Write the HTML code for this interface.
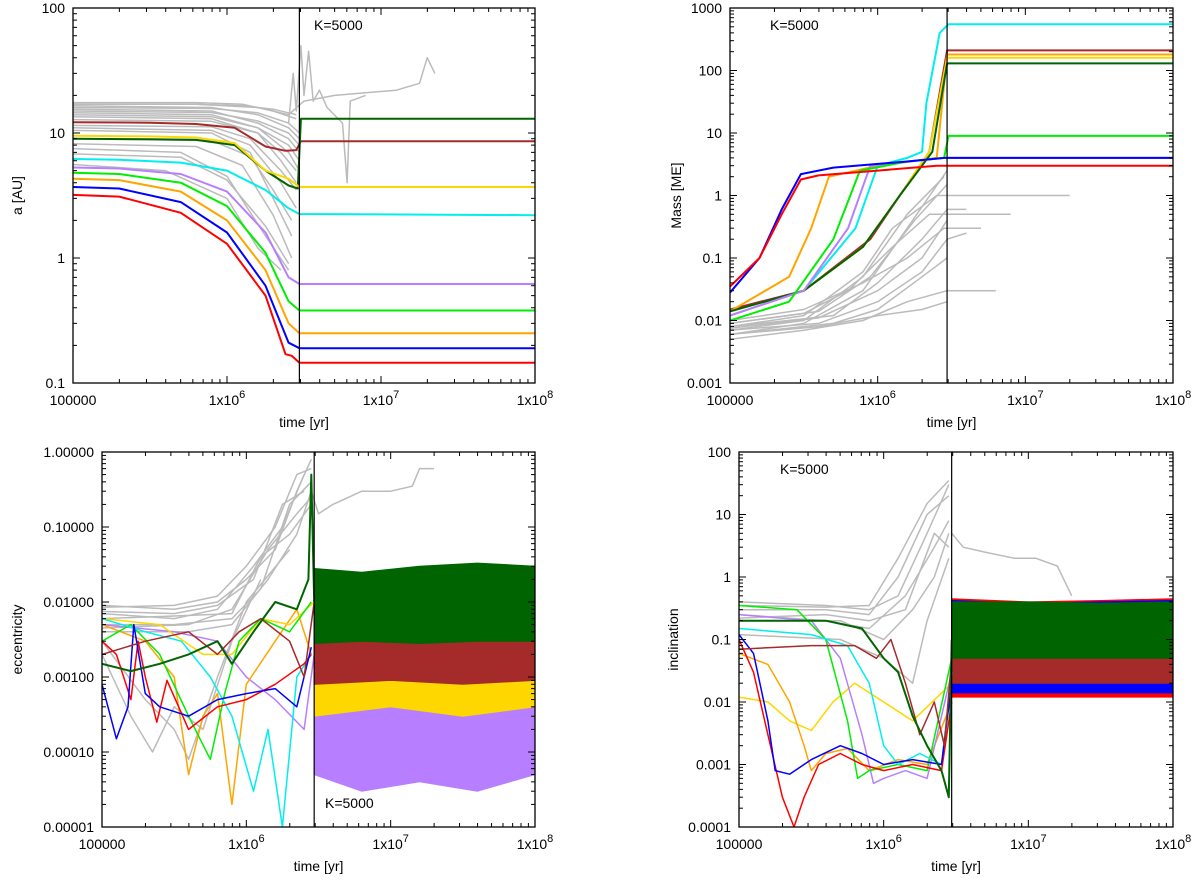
<!DOCTYPE html>
<html><head><meta charset="utf-8"><style>
html,body{margin:0;padding:0;background:#fff}
svg{display:block}
text{font-family:"Liberation Sans",sans-serif;font-size:14px;fill:#000}
</style></head><body>
<svg id="c" width="1200" height="880"></svg>
<script>
// ---------- DATA (time as log10(t) in years) ----------
const xTickLabels=["100000","1x10","1x10","1x10"];
const xTickExp=["","6","7","8"];
const aTicks=["0.1","1","10","100"];
const mTicks=["0.001","0.01","0.1","1","10","100","1000"];
const eTicks=["0.00001","0.00010","0.00100","0.01000","0.10000","1.00000"];
const iTicks=["0.0001","0.001","0.01","0.1","1","10","100"];
const kTime=6.47;

// semi-major axis
const aGray=[
[[5,17.5],[5.8,17.5],[6.1,17],[6.3,15],[6.45,13]],
[[5,17],[5.8,17],[6.1,16.5],[6.3,15.5],[6.45,14]],
[[5,16.5],[5.9,16],[6.2,14],[6.4,11],[6.47,9]],
[[5,16],[5.9,15.7],[6.2,14.5],[6.4,12],[6.47,10]],
[[5,15.5],[5.9,15],[6.2,12],[6.4,9],[6.47,7]],
[[5,15],[5.9,14.6],[6.2,12.5],[6.4,10],[6.47,8]],
[[5,14.5],[5.9,14],[6.2,11],[6.4,7],[6.47,5]],
[[5,14],[5.9,13.5],[6.2,11],[6.4,8],[6.47,6]],
[[5,13.5],[5.9,13],[6.2,10],[6.35,6],[6.45,4]],
[[5,12.8],[5.9,12.4],[6.2,10],[6.35,7],[6.45,5]],
[[5,11.5],[5.9,11.2],[6.15,9],[6.35,5],[6.45,3.5]],
[[5,11],[5.9,10.5],[6.15,8],[6.35,4],[6.45,2.5]],
[[5,10.5],[5.9,10],[6.15,7],[6.3,3],[6.42,1.5]],
[[5,9],[5.9,8.7],[6.15,6.5],[6.3,3.5],[6.42,2]],
[[5,8.2],[5.8,7.8],[6.1,5.5],[6.3,2.2],[6.42,1]],
[[5,7.5],[5.7,7],[6.0,4.5],[6.25,1.5],[6.4,0.8]],
[[5,6.8],[5.7,6.4],[6.0,4.2],[6.25,1.8],[6.4,0.9]],
[[5,5.6],[5.6,5],[6.0,3],[6.2,1.2],[6.35,0.8]],
[[5,17],[5.8,17],[6.2,16],[6.4,14],[6.5,18],[6.7,20],[6.9,21],[7.1,22],[7.25,25],[7.3,40],[7.35,30]],
[[6.4,12],[6.43,30],[6.45,15],[6.48,50],[6.5,20],[6.53,45],[6.56,18],[6.6,22],[6.65,16],[6.75,12],[6.78,4],[6.8,18],[6.9,20]]
];
const aRed=[[5,3.2],[5.3,3.1],[5.7,2.3],[6,1.3],[6.25,0.5],[6.38,0.17],[6.42,0.165],[6.47,0.145],[8,0.145]];
const aBlue=[[5,3.7],[5.3,3.6],[5.7,2.8],[6,1.6],[6.25,0.6],[6.4,0.21],[6.47,0.19],[8,0.19]];
const aOrange=[[5,4.3],[5.3,4.2],[5.7,3.4],[6,2],[6.25,0.8],[6.4,0.3],[6.47,0.25],[8,0.25]];
const aGreen=[[5,4.8],[5.3,4.7],[5.7,4.0],[6,2.6],[6.25,1.1],[6.4,0.45],[6.47,0.38],[8,0.38]];
const aPurple=[[5,5.3],[5.3,5.2],[5.7,4.7],[6,3.4],[6.25,1.6],[6.4,0.7],[6.47,0.62],[8,0.62]];
const aCyan=[[5,6.2],[5.3,6.1],[5.7,5.8],[6,5.0],[6.25,3.5],[6.4,2.5],[6.47,2.25],[8,2.2]];
const aYellow=[[5,9.5],[5.5,9.4],[5.8,9.2],[6.05,8.3],[6.25,5],[6.4,4.3],[6.47,3.7],[8,3.7]];
const aDarkGreen=[[5,9.0],[5.5,8.9],[5.8,8.8],[6.05,8],[6.25,5],[6.4,3.8],[6.46,3.6],[6.48,13],[8,13]];
const aBrown=[[5,12.2],[5.5,12.1],[5.8,11.8],[6.05,11],[6.25,7.8],[6.38,7.2],[6.45,7.3],[6.48,8.6],[8,8.6]];

// mass
const mGray=[
[[5,0.006],[5.5,0.009],[5.9,0.03],[6.2,0.3],[6.47,2.5]],
[[5,0.007],[5.5,0.01],[5.9,0.05],[6.2,0.5],[6.45,2]],
[[5,0.008],[5.5,0.012],[5.9,0.06],[6.1,0.3],[6.4,1],[7.3,1]],
[[5,0.009],[5.5,0.013],[5.8,0.03],[6.1,0.15],[6.35,0.5],[6.9,0.5]],
[[5,0.01],[5.5,0.015],[5.9,0.04],[6.2,0.1],[6.45,0.3],[6.7,0.3]],
[[5,0.005],[5.5,0.007],[5.9,0.01],[6.2,0.02],[6.47,0.03],[6.8,0.03]],
[[5,0.006],[5.6,0.008],[6,0.012],[6.3,0.015],[6.47,0.02]],
[[5,0.007],[5.6,0.009],[6,0.02],[6.3,0.06],[6.47,0.2],[6.6,0.25]],
[[5,0.008],[5.7,0.012],[6,0.04],[6.3,0.2],[6.47,0.6],[6.6,0.6]],
[[5,0.006],[5.7,0.009],[6,0.015],[6.3,0.05],[6.47,0.1]],
[[5,0.009],[5.6,0.014],[5.95,0.05],[6.25,0.4],[6.47,1.5]],
[[5,0.0075],[5.6,0.011],[6.0,0.03],[6.3,0.1],[6.47,0.4]]
];
const mRed=[[5,0.035],[5.2,0.1],[5.35,0.5],[5.48,1.8],[5.6,2.1],[6,2.5],[6.4,3],[8,3]];
const mBlue=[[5,0.028],[5.2,0.1],[5.35,0.6],[5.48,2.2],[5.7,2.8],[6.2,3.5],[6.45,4],[8,4]];
const mOrange=[[5,0.014],[5.4,0.05],[5.55,0.3],[5.67,2],[6,3],[6.4,4],[6.47,180],[8,180]];
const mGreen=[[5,0.01],[5.4,0.02],[5.7,0.2],[5.88,2.5],[6.2,3.5],[6.45,4],[6.48,9],[8,9]];
const mPurple=[[5,0.012],[5.5,0.03],[5.8,0.3],[5.95,3],[6.45,4],[8,4]];
const mCyan=[[5,0.012],[5.5,0.03],[5.85,0.3],[6.0,3],[6.2,4],[6.3,5],[6.33,30],[6.42,400],[6.48,550],[8,550]];
const mYellow=[[5,0.012],[5.5,0.03],[5.9,0.15],[6.15,1],[6.35,5],[6.47,160],[8,160]];
const mDarkGreen=[[5,0.014],[5.5,0.03],[5.9,0.15],[6.15,1],[6.37,5],[6.47,130],[8,130]];
const mBrown=[[5,0.015],[5.5,0.03],[5.95,0.2],[6.2,1.5],[6.35,5],[6.47,210],[8,210]];

// eccentricity
const eGray=[
[[5,0.009],[5.5,0.008],[5.8,0.01],[6,0.02],[6.2,0.05],[6.35,0.3],[6.45,0.8]],
[[5,0.0085],[5.5,0.009],[5.8,0.012],[6,0.03],[6.2,0.1],[6.35,0.5],[6.45,0.6]],
[[5,0.007],[5.5,0.006],[5.8,0.008],[6.05,0.03],[6.25,0.1],[6.4,0.5]],
[[5,0.0075],[5.5,0.007],[5.8,0.009],[6.05,0.02],[6.25,0.2],[6.4,0.3]],
[[5,0.005],[5.5,0.005],[5.9,0.006],[6.1,0.015],[6.3,0.2],[6.45,0.4]],
[[5,0.006],[5.5,0.0065],[5.9,0.007],[6.1,0.04],[6.3,0.08],[6.45,0.2]],
[[5,0.004],[5.6,0.004],[5.9,0.005],[6.15,0.02],[6.35,0.08],[6.45,0.3]],
[[5,0.0045],[5.6,0.005],[5.9,0.008],[6.15,0.05],[6.35,0.15],[6.45,0.25]],
[[5,0.003],[5.3,0.0005],[5.5,0.0002],[5.6,0.00008],[5.8,0.001],[6.0,0.01],[6.3,0.05]],
[[5,0.002],[5.2,0.0003],[5.35,0.0001],[5.5,0.0004],[5.7,0.0002],[5.9,0.003],[6.1,0.02]],
[[6.45,0.3],[6.5,0.15],[6.6,0.2],[6.8,0.3],[7,0.3],[7.15,0.35],[7.2,0.6],[7.3,0.6]]
];
const eRed=[[5,0.003],[5.1,0.002],[5.2,0.0005],[5.25,0.003],[5.3,0.001],[5.38,0.00025],[5.45,0.0009],[5.6,0.0002],[5.8,0.0004],[6,0.0005],[6.2,0.0008],[6.4,0.0015],[6.45,0.002]];
const eBlue=[[5,0.0008],[5.1,0.00015],[5.18,0.0004],[5.22,0.005],[5.3,0.0006],[5.4,0.0004],[5.6,0.0003],[5.8,0.0005],[6,0.0006],[6.2,0.0007],[6.35,0.0004],[6.45,0.0025]];
const eOrange=[[5,0.005],[5.3,0.003],[5.5,0.001],[5.6,0.00005],[5.7,0.0003],[5.8,0.0006],[5.9,0.00002],[6,0.0008],[6.2,0.003],[6.35,0.008],[6.45,0.002]];
const eGreen=[[5,0.003],[5.2,0.005],[5.4,0.002],[5.6,0.0003],[5.75,0.00008],[5.85,0.0006],[5.95,0.003],[6.1,0.006],[6.3,0.004],[6.45,0.01]];
const eCyan=[[5,0.006],[5.3,0.004],[5.55,0.003],[5.75,0.001],[5.9,0.0003],[6.05,0.00003],[6.15,0.0002],[6.25,0.00001],[6.35,0.001],[6.45,0.002]];
const eYellow=[[5,0.006],[5.4,0.005],[5.7,0.002],[5.9,0.002],[6.1,0.006],[6.3,0.005],[6.47,0.01]];
const ePurple=[[5,0.005],[5.5,0.004],[5.8,0.003],[6,0.001],[6.2,0.0005],[6.4,0.0002],[6.47,0.002]];
const eBrown=[[5,0.002],[5.3,0.003],[5.6,0.004],[5.8,0.002],[5.95,0.004],[6.1,0.006],[6.3,0.003],[6.4,0.001],[6.47,0.01]];
const eDarkGreen=[[5,0.0015],[5.2,0.0012],[5.4,0.0015],[5.6,0.002],[5.8,0.003],[5.9,0.0015],[6.05,0.004],[6.2,0.01],[6.35,0.008],[6.43,0.02],[6.45,0.5],[6.47,0.01]];
const ePurpleBand=[[6.47,0.00005,0.0012],[6.8,0.00003,0.0015],[7.2,0.00004,0.0012],[7.6,0.00003,0.0015],[8,0.00005,0.0012]];
const eYellowBand=[[6.47,0.0003,0.006],[7,0.0004,0.006],[7.5,0.0003,0.006],[8,0.0004,0.006]];
const eBrownBand=[[6.47,0.0008,0.015],[7,0.0009,0.012],[7.5,0.0008,0.012],[8,0.0009,0.012]];
const eDarkGreenBand=[[6.47,0.0028,0.028],[6.8,0.003,0.025],[7.2,0.0028,0.03],[7.6,0.003,0.033],[8,0.003,0.03]];

// inclination
const iGray=[
[[5,0.4],[5.6,0.35],[5.9,0.3],[6.1,0.5],[6.3,5],[6.45,30]],
[[5,0.35],[5.6,0.33],[5.9,0.35],[6.1,2],[6.3,15],[6.45,35]],
[[5,0.3],[5.6,0.3],[5.9,0.25],[6.1,1],[6.3,10],[6.45,20]],
[[5,0.25],[5.6,0.2],[5.9,0.15],[6.15,0.5],[6.35,3],[6.45,8]],
[[5,0.22],[5.6,0.25],[5.9,0.2],[6.15,0.3],[6.35,5],[6.45,3]],
[[5,0.2],[5.7,0.2],[6.0,0.1],[6.2,0.3],[6.35,1],[6.45,5]],
[[5,0.12],[5.7,0.1],[6.0,0.05],[6.2,0.02],[6.3,0.2],[6.45,2]],
[[6.47,5],[6.55,3],[6.7,2.5],[6.9,2],[7.05,2],[7.2,1.5],[7.3,0.5]]
];
const iRed=[[5,0.1],[5.1,0.03],[5.2,0.003],[5.3,0.0003],[5.38,0.0001],[5.45,0.0003],[5.55,0.001],[5.7,0.0015],[5.85,0.001],[6,0.0008],[6.2,0.001],[6.4,0.0008],[6.47,0.01]];
const iBlue=[[5,0.12],[5.1,0.06],[5.2,0.005],[5.25,0.0008],[5.35,0.0007],[5.5,0.0012],[5.7,0.002],[5.85,0.0015],[6,0.001],[6.2,0.0012],[6.4,0.001],[6.47,0.02]];
const iOrange=[[5,0.06],[5.2,0.04],[5.35,0.01],[5.45,0.002],[5.5,0.0008],[5.6,0.0015],[5.75,0.0018],[5.9,0.0008],[6.1,0.0012],[6.3,0.001],[6.47,0.01]];
const iYellow=[[5,0.012],[5.2,0.01],[5.35,0.005],[5.5,0.0035],[5.65,0.01],[5.8,0.02],[6,0.01],[6.2,0.005],[6.47,0.02]];
const iGreen=[[5,0.35],[5.4,0.3],[5.6,0.1],[5.75,0.005],[5.82,0.0006],[5.9,0.0008],[6.1,0.001],[6.3,0.0008],[6.47,0.05]];
const iPurple=[[5,0.25],[5.5,0.2],[5.7,0.05],[5.85,0.003],[5.93,0.0005],[6.0,0.0006],[6.15,0.0008],[6.3,0.0006],[6.47,0.03]];
const iCyan=[[5,0.15],[5.5,0.12],[5.75,0.08],[5.9,0.02],[6,0.002],[6.1,0.001],[6.25,0.0015],[6.4,0.001],[6.47,0.03]];
const iBrown=[[5,0.07],[5.5,0.08],[5.8,0.08],[5.95,0.05],[6.05,0.1],[6.15,0.02],[6.25,0.003],[6.35,0.01],[6.42,0.002],[6.47,0.05]];
const iDarkGreen=[[5,0.2],[5.6,0.2],[5.85,0.15],[6.0,0.05],[6.1,0.03],[6.2,0.006],[6.3,0.002],[6.4,0.0008],[6.45,0.0003],[6.47,0.1]];
const iRedBand=[[6.47,0.012,0.45],[7,0.012,0.4],[7.5,0.012,0.42],[8,0.012,0.45]];
const iBlueBand=[[6.47,0.014,0.42],[7,0.014,0.38],[7.5,0.014,0.4],[8,0.014,0.42]];
const iBrownBand=[[6.47,0.02,0.35],[7,0.02,0.3],[7.5,0.02,0.3],[8,0.02,0.3]];
const iDarkGreenBand=[[6.47,0.05,0.4],[7,0.05,0.4],[7.5,0.05,0.38],[8,0.05,0.4]];

// ---------- DRAWING ----------
const NS="http://www.w3.org/2000/svg";
const svg=document.getElementById('c');
const C={red:"#ff0000",blue:"#0000ff",orange:"#ffa500",green:"#00ee00",purple:"#b77fff",cyan:"#00eeee",yellow:"#ffd700",darkgreen:"#006400",brown:"#a52a2a",gray:"#bbbbbb"};
function mk(tag,attrs,parent){const e=document.createElementNS(NS,tag);for(const k in attrs)e.setAttribute(k,attrs[k]);(parent||svg).appendChild(e);return e;}

function panel(id,x0,x1,y0,y1,ymin,ymax,yLabels,yTitle,titleX,kx,ky){
  const g=mk('g',{});
  
  
  const X=lt=>x0+(lt-5)/3*(x1-x0);
  const Y=v=>y1-(Math.log10(v)-ymin)/(ymax-ymin)*(y1-y0);
  const cp=mk('clipPath',{id:'cl'+id},g);mk('rect',{x:x0,y:y0,width:x1-x0,height:y1-y0},cp);
  const plot=mk('g',{'clip-path':'url(#cl'+id+')'},g);
  
  
  const line=(pts,col,w,name)=>{const p=mk('polyline',{points:pts.map(q=>X(q[0]).toFixed(1)+','+Y(q[1]).toFixed(1)).join(' '),fill:'none',stroke:col,'stroke-width':w,'stroke-linejoin':'round'},plot);
    
    return p;};
  const band=(pts,col,name)=>{const up=pts.map(q=>X(q[0]).toFixed(1)+','+Y(q[2]).toFixed(1));const lo=pts.slice().reverse().map(q=>X(q[0]).toFixed(1)+','+Y(q[1]).toFixed(1));
    const p=mk('polygon',{points:up.concat(lo).join(' '),fill:col,stroke:col,'stroke-width':1},plot);
    
    return p;};
  const tk=mk('g',{stroke:'#000','stroke-width':1},g);
  for(let d=0;d<=3;d++){const lt=5+d;const x=X(lt);
    mk('line',{x1:x,y1:y1,x2:x,y2:y1-7},tk);mk('line',{x1:x,y1:y0,x2:x,y2:y0+7},tk);
    const t=mk('text',{x:x,y:y1+22,'text-anchor':'middle'},g);t.textContent=xTickLabels[d];
    if(xTickExp[d]){const s=mk('tspan',{dy:-7,'font-size':11},t);s.textContent=xTickExp[d];}
    
    
    if(d<3)for(let m=2;m<10;m++){const xm=X(lt+Math.log10(m));mk('line',{x1:xm,y1:y1,x2:xm,y2:y1-4},tk);mk('line',{x1:xm,y1:y0,x2:xm,y2:y0+4},tk);}
  }
  for(let d=ymin;d<=ymax;d++){const y=Y(Math.pow(10,d));
    mk('line',{x1:x0,y1:y,x2:x0+7,y2:y},tk);mk('line',{x1:x1,y1:y,x2:x1-7,y2:y},tk);
    const t=mk('text',{x:x0-8,y:y+5,'text-anchor':'end'},g);t.textContent=yLabels[d-ymin];
    
    
    if(d<ymax)for(let m=2;m<10;m++){const ym=Y(m*Math.pow(10,d));mk('line',{x1:x0,y1:ym,x2:x0+4,y2:ym},tk);mk('line',{x1:x1,y1:ym,x2:x1-4,y2:ym},tk);}
  }
  const xt=mk('text',{x:(x0+x1)/2,y:y1+44,'text-anchor':'middle'},g);xt.textContent='time [yr]';
  
  
  const yt=mk('text',{x:titleX,y:(y0+y1)/2,'text-anchor':'middle',transform:`rotate(-90 ${titleX} ${(y0+y1)/2})`},g);yt.textContent=yTitle;
  
  
  const kl=mk('text',{x:kx,y:ky},g);kl.textContent='K=5000';
  
  
  return {g,plot,X,Y,line,band,finish(){const xk=X(kTime);const v=mk('line',{x1:xk,y1:y0,x2:xk,y2:y1,stroke:'#000','stroke-width':1.2},g);
    
    
    const f=mk('rect',{x:x0,y:y0,width:x1-x0,height:y1-y0,fill:'none',stroke:'#000','stroke-width':1.3},g);
    
    }};
}

// Panel A
let P=panel('semi-major-axis',73,535,8,383,-1,2,aTicks,'a [AU]',22,314,30);
aGray.forEach(s=>P.line(s,C.gray,1.5,'gray-planet-line'));
P.line(aBrown,C.brown,2,'brown-line');P.line(aDarkGreen,C.darkgreen,2,'darkgreen-line');P.line(aYellow,C.yellow,2,'yellow-line');
P.line(aCyan,C.cyan,2,'cyan-line');P.line(aPurple,C.purple,2,'purple-line');P.line(aGreen,C.green,2,'green-line');
P.line(aOrange,C.orange,2,'orange-line');P.line(aBlue,C.blue,2,'blue-line');P.line(aRed,C.red,2,'red-line');
P.finish();

// Panel M
P=panel('mass',730,1173,8,383,-3,3,mTicks,'Mass [ME]',681,770,30);
mGray.forEach(s=>P.line(s,C.gray,1.5,'gray-planet-line'));
P.line(mCyan,C.cyan,2,'cyan-line');P.line(mBrown,C.brown,2,'brown-line');P.line(mOrange,C.orange,2,'orange-line');
P.line(mYellow,C.yellow,2,'yellow-line');P.line(mDarkGreen,C.darkgreen,2,'darkgreen-line');P.line(mPurple,C.purple,2,'purple-line');
P.line(mGreen,C.green,2,'green-line');P.line(mBlue,C.blue,2,'blue-line');P.line(mRed,C.red,2,'red-line');
P.finish();

// Panel E
P=panel('eccentricity',102,535,452,827,-5,0,eTicks,'eccentricity',22,325,808);
eGray.forEach(s=>P.line(s,C.gray,1.5,'gray-planet-line'));
P.band(ePurpleBand,C.purple,'purple-band');P.band(eYellowBand,C.yellow,'yellow-band');
P.band(eBrownBand,C.brown,'brown-band');P.band(eDarkGreenBand,C.darkgreen,'darkgreen-band');
P.line(ePurple,C.purple,1.5,'purple-line');P.line(eOrange,C.orange,1.5,'orange-line');P.line(eYellow,C.yellow,1.5,'yellow-line');
P.line(eGreen,C.green,1.5,'green-line');P.line(eCyan,C.cyan,1.5,'cyan-line');P.line(eRed,C.red,1.5,'red-line');
P.line(eBlue,C.blue,1.5,'blue-line');P.line(eBrown,C.brown,1.5,'brown-line');P.line(eDarkGreen,C.darkgreen,2,'darkgreen-line');
P.finish();

// Panel I
P=panel('inclination',739,1173,452,827,-4,2,iTicks,'inclination',678,780,474);
iGray.forEach(s=>P.line(s,C.gray,1.5,'gray-planet-line'));
P.band(iRedBand,C.red,'red-band');P.band(iBlueBand,C.blue,'blue-band');P.band(iBrownBand,C.brown,'brown-band');P.band(iDarkGreenBand,C.darkgreen,'darkgreen-band');
P.line(iYellow,C.yellow,1.5,'yellow-line');P.line(iOrange,C.orange,1.5,'orange-line');P.line(iPurple,C.purple,1.5,'purple-line');
P.line(iGreen,C.green,1.5,'green-line');P.line(iCyan,C.cyan,1.5,'cyan-line');P.line(iRed,C.red,1.5,'red-line');
P.line(iBlue,C.blue,1.5,'blue-line');P.line(iBrown,C.brown,1.5,'brown-line');P.line(iDarkGreen,C.darkgreen,2,'darkgreen-line');
P.finish();
</script>
</body></html>
